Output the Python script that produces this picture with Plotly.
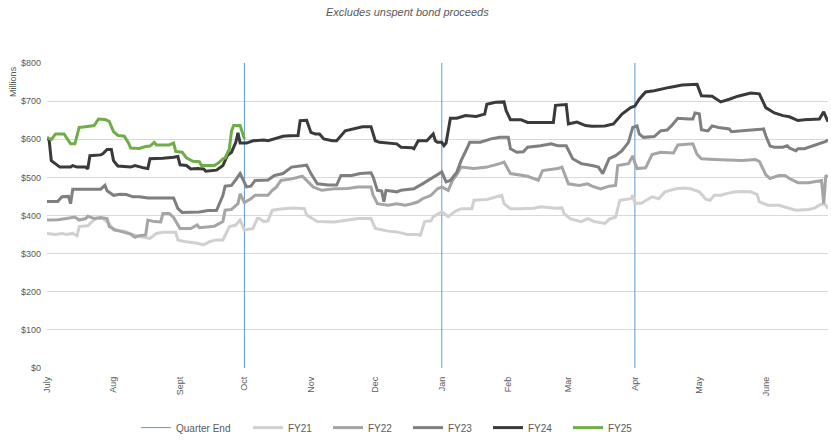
import plotly.graph_objects as go

# Fiscal-year day index (0 = July 1, 364 = June 30)
month_days = [0, 31, 62, 92, 123, 153, 184, 215, 243, 274, 304, 335]
month_labels = ["July", "Aug", "Sept", "Oct", "Nov", "Dec", "Jan", "Feb", "Mar", "Apr", "May", "June"]
quarter_end_days = [92, 184, 274]

y_ticks = [0, 100, 200, 300, 400, 500, 600, 700, 800]
y_tick_text = ["$0", "$100", "$200", "$300", "$400", "$500", "$600", "$700", "$800"]

# Daily balances ($ millions), sampled at the days where each series changes
fy21_days = [0, 4, 7, 9, 12, 14, 15, 19, 21, 23, 26, 29, 31, 36, 40, 43, 48, 51, 54, 60, 61, 64, 70, 73, 76, 79, 82,
             85, 88, 90, 92, 96, 98, 99, 101, 103, 105, 110, 115, 120, 121, 126, 134, 140, 145, 151, 153, 159, 163,
             168, 173, 174, 176, 179, 180, 184, 187, 190, 193, 198, 199, 205, 210, 212, 213, 216, 221, 227, 230, 237,
             240, 241, 244, 249, 252, 255, 260, 262, 265, 267, 272, 273, 274, 277, 282, 285, 288, 293, 297, 300, 304,
             307, 309, 311, 314, 317, 321, 324, 328, 331, 332, 336, 341, 346, 349, 355, 358, 360, 362, 363, 364]
fy21_vals = [353, 350, 353, 350, 353, 347, 371, 373, 384, 392, 392, 379, 362, 359, 350, 345, 340, 353, 356, 356, 336,
             332, 327, 323, 332, 336, 336, 371, 375, 388, 362, 366, 392, 392, 384, 386, 414, 418, 420, 418, 401, 384,
             383, 388, 392, 392, 366, 359, 357, 350, 350, 348, 384, 386, 397, 410, 397, 410, 418, 418, 440, 442, 449,
             453, 431, 418, 418, 419, 423, 419, 420, 405, 391, 384, 392, 384, 379, 390, 396, 440, 444, 453, 432, 432,
             449, 444, 462, 470, 472, 470, 462, 443, 440, 453, 453, 458, 462, 463, 462, 455, 436, 427, 427, 420, 414,
             416, 420, 427, 431, 427, 418]

fy22_days = [0, 5, 9, 12, 13, 15, 18, 19, 22, 25, 28, 29, 32, 34, 39, 41, 43, 46, 47, 50, 53, 54, 57, 59, 61, 62, 67,
             70, 71, 78, 82, 83, 86, 89, 90, 92, 95, 97, 103, 105, 107, 109, 114, 119, 121, 124, 128, 134, 140, 145,
             151, 152, 154, 159, 163, 167, 170, 173, 175, 179, 182, 184, 187, 189, 191, 193, 199, 205, 211, 213, 216,
             221, 224, 229, 231, 238, 240, 243, 248, 252, 254, 258, 262, 265, 266, 271, 273, 274, 275, 279, 282, 286,
             292, 294, 301, 303, 305, 311, 319, 324, 330, 332, 335, 337, 341, 344, 346, 350, 355, 360, 361, 362, 363,
             364]
fy22_vals = [388, 389, 392, 395, 396, 388, 392, 398, 392, 395, 392, 371, 362, 359, 351, 343, 347, 349, 388, 384, 383,
             405, 405, 395, 375, 366, 366, 375, 368, 372, 384, 414, 416, 431, 457, 434, 444, 453, 453, 466, 475, 492,
             496, 503, 492, 475, 466, 470, 471, 475, 475, 453, 431, 427, 431, 427, 431, 436, 444, 453, 470, 475, 466,
             492, 507, 527, 523, 527, 536, 540, 510, 505, 503, 492, 518, 523, 527, 483, 479, 483, 477, 470, 477, 479,
             531, 536, 556, 538, 523, 525, 560, 566, 564, 585, 588, 560, 549, 547, 544, 544, 547, 542, 507, 497, 505,
             505, 497, 486, 486, 492, 492, 431, 505, 500]

fy23_days = [0, 5, 7, 10, 11, 12, 25, 27, 28, 31, 34, 37, 40, 43, 47, 59, 61, 63, 71, 75, 79, 82, 83, 86, 88, 90, 93,
             95, 97, 103, 106, 110, 114, 119, 121, 123, 126, 131, 135, 137, 142, 146, 151, 152, 154, 156, 157, 158,
             163, 165, 171, 175, 180, 184, 186, 188, 191, 193, 196, 197, 202, 207, 211, 215, 216, 219, 222, 224, 230,
             235, 238, 242, 245, 249, 254, 257, 259, 261, 262, 265, 268, 271, 273, 275, 276, 278, 283, 286, 289, 291,
             294, 299, 301, 302, 304, 305, 308, 310, 313, 318, 319, 324, 334, 335, 337, 339, 343, 345, 346, 349, 350,
             353, 357, 360, 363, 364]
fy23_vals = [437, 437, 449, 450, 431, 469, 469, 479, 465, 453, 456, 455, 449, 449, 446, 446, 418, 408, 409, 413, 413,
             453, 477, 479, 494, 510, 475, 477, 492, 493, 505, 510, 527, 531, 532, 510, 483, 480, 480, 505, 505, 510,
             512, 501, 466, 464, 436, 466, 462, 466, 470, 483, 501, 514, 488, 492, 514, 544, 579, 592, 592, 601, 605,
             605, 575, 566, 567, 579, 583, 588, 583, 583, 549, 536, 531, 527, 510, 536, 549, 557, 570, 592, 631, 635,
             614, 605, 607, 622, 624, 635, 655, 653, 653, 669, 667, 625, 622, 635, 631, 627, 620, 622, 627, 609, 582,
             579, 579, 583, 577, 570, 575, 575, 583, 590, 594, 599]

fy24_days = [0, 1, 2, 4, 6, 11, 12, 14, 18, 19, 20, 25, 26, 28, 30, 31, 33, 39, 41, 45, 47, 48, 54, 59, 61, 62, 65,
             67, 70, 73, 74, 79, 82, 84, 86, 88, 89, 90, 93, 96, 101, 103, 106, 110, 113, 117, 118, 121, 123, 125,
             127, 129, 133, 135, 139, 143, 147, 151, 153, 155, 160, 163, 165, 170, 171, 173, 177, 180, 181, 182, 184,
             185, 186, 188, 191, 195, 200, 204, 205, 209, 213, 214, 216, 221, 224, 229, 232, 236, 237, 242, 243, 246,
             247, 251, 254, 260, 264, 268, 272, 274, 276, 279, 283, 290, 296, 303, 305, 310, 314, 318, 322, 328, 332,
             335, 337, 339, 343, 346, 350, 353, 360, 362, 364]
fy24_vals = [603, 598, 544, 536, 527, 527, 531, 527, 527, 522, 557, 559, 562, 573, 573, 544, 530, 527, 531, 525, 523,
             549, 550, 553, 555, 533, 531, 522, 523, 522, 516, 519, 531, 557, 566, 592, 617, 590, 590, 596, 598, 596,
             601, 608, 609, 610, 649, 650, 618, 614, 614, 601, 596, 596, 622, 627, 633, 633, 596, 592, 590, 588, 579,
             578, 575, 596, 596, 614, 596, 592, 592, 583, 590, 655, 655, 662, 660, 666, 692, 697, 698, 675, 651, 651,
             644, 643, 644, 644, 689, 691, 640, 644, 645, 636, 634, 635, 640, 666, 683, 687, 705, 724, 727, 736, 742,
             744, 714, 713, 698, 705, 713, 721, 719, 683, 675, 669, 662, 659, 649, 651, 653, 672, 646]

fy25_days = [0, 2, 4, 8, 9, 11, 13, 15, 17, 22, 24, 27, 29, 31, 33, 36, 38, 39, 43, 46, 48, 50, 51, 57, 59, 60, 63, 65,
             68, 71, 72, 78, 80, 82, 83, 85, 86, 87, 90, 92]
fy25_vals = [605, 599, 614, 614, 605, 588, 588, 631, 632, 636, 653, 652, 647, 620, 610, 608, 590, 577, 576, 581, 582,
             592, 585, 585, 590, 568, 566, 551, 542, 541, 531, 531, 538, 549, 551, 575, 622, 636, 636, 601]

series = [
    ("FY21", fy21_days, fy21_vals, "#D0D0D0"),
    ("FY22", fy22_days, fy22_vals, "#A5A5A5"),
    ("FY23", fy23_days, fy23_vals, "#7F7F7F"),
    ("FY24", fy24_days, fy24_vals, "#3A3A3A"),
    ("FY25", fy25_days, fy25_vals, "#70AD47"),
]

TEXT = "#595959"
FONT = "Liberation Sans, Arial, sans-serif"

# plot area in pixels: left 47, right 828, top 63, bottom 370
PL, PW, PB, PH = 47, 781, 370, 307


def px_x(x):
    return (x - PL) / PW


def px_y(y):
    return (PB - y) / PH


fig = go.Figure()

# Quarter-end markers as one broken vertical line series
qx, qy = [], []
for d in quarter_end_days:
    qx += [d, d, None]
    qy += [0, 800, None]
fig.add_trace(go.Scatter(x=qx, y=qy, mode="lines", name="Quarter End",
                         line=dict(color="#5B9BD5", width=1), legend="legend",
                         hoverinfo="skip"))

for name, days, vals, color in series:
    fig.add_trace(go.Scatter(x=days, y=vals, mode="lines", name=name,
                             line=dict(color=color, width=3), legend="legend2"))

fig.update_layout(
    template="none",
    width=831, height=445,
    margin=dict(l=PL, r=831 - PL - PW, t=PB - PH, b=445 - PB),
    paper_bgcolor="white", plot_bgcolor="white",
    font=dict(family=FONT, color=TEXT, size=10),
    showlegend=True,
    legend=dict(orientation="h", x=px_x(136), xanchor="left", y=px_y(430), yanchor="middle",
                font=dict(size=10, color=TEXT), bgcolor="rgba(0,0,0,0)"),
    legend2=dict(orientation="h", x=px_x(248), xanchor="left", y=px_y(430), yanchor="middle",
                 font=dict(size=10, color=TEXT), bgcolor="rgba(0,0,0,0)",
                 entrywidth=35, entrywidthmode="pixels"),
    xaxis=dict(range=[0, 364], tickmode="array", tickvals=month_days, ticktext=month_labels,
               tickangle=-90, showgrid=False, zeroline=False, showline=False, ticks="",
               ticklabelstandoff=6,
               tickfont=dict(size=9, color=TEXT), automargin=False),
    yaxis=dict(range=[0, 800], tickmode="array", tickvals=y_ticks, ticktext=y_tick_text,
               showgrid=True, gridcolor="#D9D9D9", gridwidth=1, zeroline=False, showline=False,
               ticks="", ticklabelstandoff=5,
               tickfont=dict(size=9, color=TEXT), automargin=False),
    annotations=[
        dict(text="<i>Excludes unspent bond proceeds</i>", xref="paper", yref="paper",
             x=px_x(407), y=px_y(12), xanchor="center", yanchor="middle",
             showarrow=False, font=dict(size=11, color=TEXT, family=FONT)),
        dict(text="Millions", xref="paper", yref="paper", x=px_x(13), y=px_y(82),
             xanchor="center", yanchor="middle", textangle=-90, showarrow=False,
             font=dict(size=9, color=TEXT)),
    ],
)

fig.write_html("out.html")
